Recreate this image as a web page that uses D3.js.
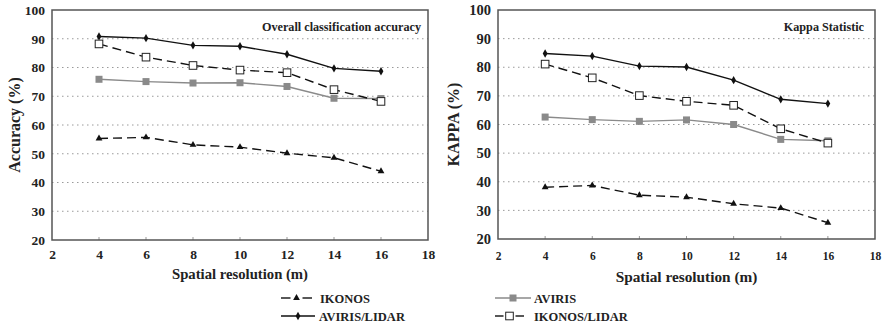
<!DOCTYPE html>
<html>
<head>
<meta charset="utf-8">
<script src="https://cdn.jsdelivr.net/npm/d3@7"></script>
<style>
  body { margin: 0; background: #fff; }
  svg text { font-family: "Liberation Serif", "DejaVu Serif", serif; font-weight: bold; fill: #222; }
</style>
</head>
<body>
<div class="figure"></div>
<script>
// spatial resolution (m)
var resolution = [4, 6, 8, 10, 12, 14, 16]
var seriesNames = ["IKONOS", "AVIRIS", "AVIRIS/LIDAR", "IKONOS/LIDAR"]

// overall classification accuracy (%)
var accIkonos      = [55.3, 55.7, 53.1, 52.3, 50.2, 48.6, 43.9]
var accAviris      = [75.9, 75.1, 74.6, 74.7, 73.4, 69.3, 69.2]
var accAvirisLidar = [90.8, 90.2, 87.7, 87.4, 84.6, 79.7, 78.7]
var accIkonosLidar = [88.2, 83.6, 80.7, 79.1, 78.2, 72.3, 68.2]

// kappa statistic (%)
var kapIkonos      = [38.1, 38.7, 35.3, 34.6, 32.3, 30.8, 25.7]
var kapAviris      = [62.6, 61.7, 61.1, 61.6, 60.0, 54.8, 54.3]
var kapAvirisLidar = [84.8, 83.9, 80.4, 80.1, 75.5, 68.8, 67.3]
var kapIkonosLidar = [81.1, 76.3, 70.1, 68.1, 66.7, 58.5, 53.5]

var xTicks = [2, 4, 6, 8, 10, 12, 14, 16, 18]
var yTicks = [20, 30, 40, 50, 60, 70, 80, 90, 100]

var styles = {
    "IKONOS":       {stroke: "#111", dash: "9,5", marker: "triangle"},
    "AVIRIS":       {stroke: "#8a8a8a", dash: null, marker: "square"},
    "AVIRIS/LIDAR": {stroke: "#111", dash: null, marker: "diamond"},
    "IKONOS/LIDAR": {stroke: "#111", dash: "9,5", marker: "open"},
}

var svg = d3.select("div.figure")
    .append("svg")
    .attr("width", 885)
    .attr("height", 326)

var drawMarker = function(g, type, cx, cy) {
    if (type == "triangle") {
        g.append("path")
            .attr("d", d3.symbol().type(d3.symbolTriangle).size(20)())
            .attr("transform", "translate(" + cx + "," + cy + ")")
            .attr("fill", "#111")
    } else if (type == "square") {
        g.append("rect").attr("x", cx - 3.5).attr("y", cy - 3.5)
            .attr("width", 7).attr("height", 7).attr("fill", "#8a8a8a")
    } else if (type == "diamond") {
        g.append("path")
            .attr("d", d3.symbol().type(d3.symbolDiamond).size(20)())
            .attr("transform", "translate(" + cx + "," + cy + ")")
            .attr("fill", "#111")
    } else {
        g.append("rect").attr("x", cx - 3.8).attr("y", cy - 3.8)
            .attr("width", 7.6).attr("height", 7.6)
            .attr("fill", "#fff").attr("stroke", "#222").attr("stroke-width", 1)
    }
}

var drawPanel = function(cfg) {
    var g = svg.append("g")

    var xScale = d3.scaleLinear().domain([2, 18]).range([cfg.left, cfg.right])
    var yScale = d3.scaleLinear().domain([20, 100]).range([cfg.bottom, cfg.top])

    // dotted grid
    g.append("g").selectAll("line")
        .data(yTicks.slice(1, -1)).enter()
        .append("line")
        .attr("x1", cfg.left).attr("x2", cfg.right)
        .attr("y1", function(d) {return yScale(d)})
        .attr("y2", function(d) {return yScale(d)})
        .attr("stroke", "#9a9a9a")
        .attr("stroke-dasharray", "1.5,3.5")

    // small inward ticks on the bottom edge
    g.append("g").selectAll("line")
        .data(xTicks.slice(1, -1)).enter()
        .append("line")
        .attr("x1", function(d) {return xScale(d)})
        .attr("x2", function(d) {return xScale(d)})
        .attr("y1", cfg.bottom).attr("y2", cfg.bottom - 3)
        .attr("stroke", "#999")

    // frame
    g.append("rect")
        .attr("x", cfg.left).attr("y", cfg.top)
        .attr("width", cfg.right - cfg.left).attr("height", cfg.bottom - cfg.top)
        .attr("fill", "none").attr("stroke", "#555").attr("stroke-width", 1.5)

    var xAxis = d3.axisBottom(xScale).tickValues(xTicks).tickSize(0).tickPadding(cfg.xPad)
    var gx = g.append("g")
        .attr("transform", "translate(0," + cfg.bottom + ")")
        .call(xAxis)
    gx.select(".domain").remove()
    gx.selectAll("text").attr("font-family", null).attr("font-size", null)
        .style("font-size", cfg.xFont + "px")

    var yAxis = d3.axisLeft(yScale).tickValues(yTicks).tickSize(0).tickPadding(7)
    var gy = g.append("g")
        .attr("transform", "translate(" + cfg.left + ",0)")
        .call(yAxis)
    gy.select(".domain").remove()
    gy.selectAll("text").attr("font-family", null).attr("font-size", null)
        .style("font-size", cfg.yFont + "px")

    g.append("text")
        .attr("x", (cfg.left + cfg.right) / 2)
        .attr("y", cfg.xTitleY)
        .attr("text-anchor", "middle")
        .style("font-size", cfg.xTitleFont + "px")
        .text("Spatial resolution (m)")

    g.append("text")
        .attr("transform", "translate(" + cfg.yTitleX + "," + ((cfg.top + cfg.bottom) / 2) + ") rotate(-90)")
        .attr("text-anchor", "middle")
        .style("font-size", "16px")
        .text(cfg.yTitle)

    g.append("text")
        .attr("x", cfg.right - cfg.labelInset)
        .attr("y", 31)
        .attr("text-anchor", "end")
        .style("font-size", "12.2px")
        .text(cfg.label)

    var line = d3.line()
        .x(function(d) {return xScale(d[0])})
        .y(function(d) {return yScale(d[1])})

    cfg.series.forEach(function(vals, i) {
        var st = styles[seriesNames[i]]
        var pts = resolution.map(function(r, j) {return [r, vals[j]]})
        g.append("path")
            .attr("d", line(pts))
            .attr("fill", "none")
            .attr("stroke", st.stroke)
            .attr("stroke-width", 1.4)
            .attr("stroke-dasharray", st.dash)
        pts.forEach(function(p) {
            drawMarker(g, st.marker, xScale(p[0]), yScale(p[1]))
        })
    })
}

drawPanel({
    left: 52, right: 428, top: 10, bottom: 240,
    xPad: 9, xFont: 13.5, yFont: 13.5, xTitleY: 279, xTitleFont: 14.7,
    yTitle: "Accuracy (%)", yTitleX: 20,
    label: "Overall classification accuracy", labelInset: 7,
    series: [accIkonos, accAviris, accAvirisLidar, accIkonosLidar],
})

drawPanel({
    left: 498, right: 875, top: 10, bottom: 239,
    xPad: 13, xFont: 11.5, yFont: 14.5, xTitleY: 282, xTitleFont: 15.3,
    yTitle: "KAPPA (%)", yTitleX: 459,
    label: "Kappa Statistic", labelInset: 11,
    series: [kapIkonos, kapAviris, kapAvirisLidar, kapIkonosLidar],
})

// legend
var legendPos = [
    {x: 281, y: 298, w: 31, tx: 320},
    {x: 495, y: 298, w: 36, tx: 534},
    {x: 281, y: 316, w: 34, tx: 319},
    {x: 495, y: 316, w: 29, tx: 534},
]

var legend = svg.append("g")
seriesNames.forEach(function(name, i) {
    var st = styles[name]
    var p = legendPos[i]
    var mid = p.x + p.w / 2
    if (st.dash) {
        // dash - marker - dash
        legend.append("line")
            .attr("x1", p.x).attr("x2", mid - 6)
            .attr("y1", p.y).attr("y2", p.y)
            .attr("stroke", st.stroke).attr("stroke-width", 1.4)
        legend.append("line")
            .attr("x1", mid + 6).attr("x2", p.x + p.w)
            .attr("y1", p.y).attr("y2", p.y)
            .attr("stroke", st.stroke).attr("stroke-width", 1.4)
    } else {
        legend.append("line")
            .attr("x1", p.x).attr("x2", p.x + p.w)
            .attr("y1", p.y).attr("y2", p.y)
            .attr("stroke", st.stroke).attr("stroke-width", 1.4)
    }
    drawMarker(legend, st.marker, mid, p.y)
    legend.append("text")
        .attr("x", p.tx)
        .attr("y", p.y + 4.5)
        .style("font-size", "12.5px")
        .text(name)
})
</script>
</body>
</html>
